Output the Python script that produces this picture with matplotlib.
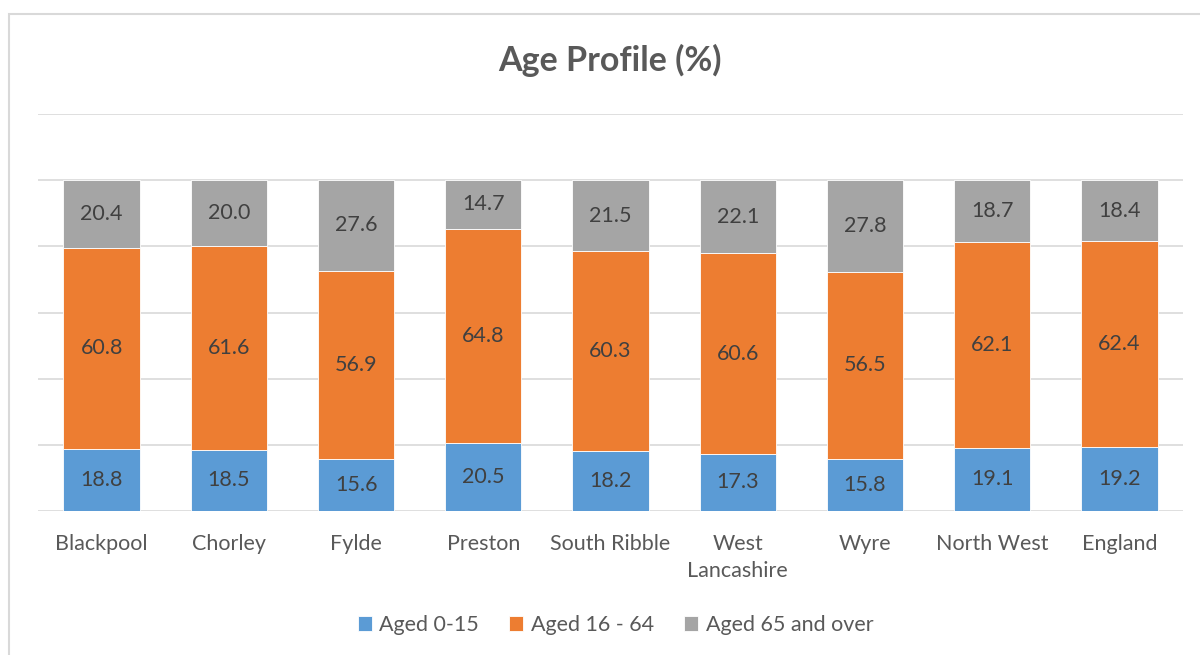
import matplotlib
matplotlib.use("Agg")
import matplotlib.pyplot as plt
import numpy as np

plt.rcParams["font.family"] = ["Lato", "DejaVu Sans"]

# Datos del grafico
areas = ["Blackpool", "Chorley", "Fylde", "Preston", "South Ribble",
         "West\nLancashire", "Wyre", "North West", "England"]
aged_0_15 = [18.8, 18.5, 15.6, 20.5, 18.2, 17.3, 15.8, 19.1, 19.2]
aged_16_64 = [60.8, 61.6, 56.9, 64.8, 60.3, 60.6, 56.5, 62.1, 62.4]
aged_65_over = [20.4, 20.0, 27.6, 14.7, 21.5, 22.1, 27.8, 18.7, 18.4]
series_names = ["Aged 0-15", "Aged 16 - 64", "Aged 65 and over"]
colores = ["#5B9BD5", "#ED7D31", "#A5A5A5"]

fig = plt.figure(figsize=(12, 6.55), dpi=100)
ax = fig.add_axes([38 / 1200, 1 - 511 / 655, 1145 / 1200, 397 / 655])

x = np.arange(len(areas))
base = np.zeros(len(areas))
for vals, nombre, color in zip([aged_0_15, aged_16_64, aged_65_over], series_names, colores):
    vals = np.array(vals)
    barras = ax.bar(x, vals, 0.6, bottom=base, color=color, label=nombre,
                    edgecolor="white", linewidth=0.6, zorder=3)
    ax.bar_label(barras, labels=[f"{v:.1f}" for v in vals], label_type="center",
                 fontsize=15.5, color="#404040")
    base = base + vals

ax.set_xlim(-0.5, len(areas) - 0.5)
ax.set_ylim(0, 120)
ax.set_yticks(np.arange(0, 121, 20))
ax.yaxis.grid(True, color="#D9D9D9", linewidth=1.2, zorder=0)
ax.tick_params(axis="y", left=False, labelleft=False)
ax.tick_params(axis="x", bottom=False, labelsize=15.5, labelcolor="#595959", pad=13)
ax.set_xticks(x)
ax.set_xticklabels(areas, linespacing=1.45)
for s in ax.spines.values():
    s.set_visible(False)

fig.text(0.508, 1 - 60 / 655, "Age Profile (%)", ha="center", va="center",
         fontsize=24.5, fontweight="bold", color="#595959")

fig.legend(loc="center", bbox_to_anchor=(0.513, 1 - 625 / 655), ncol=3, frameon=False,
           fontsize=15.5, labelcolor="#595959", handlelength=0.65, handleheight=0.65,
           handletextpad=0.35, columnspacing=1.4)

# Borde del grafico
borde = plt.Rectangle((9 / 1200, -0.1), 1.2, 1 - 14 / 655 + 0.1, transform=fig.transFigure,
                      fill=False, edgecolor="#D9D9D9", linewidth=1.5)
fig.add_artist(borde)

fig.savefig("out.png", dpi=100)
